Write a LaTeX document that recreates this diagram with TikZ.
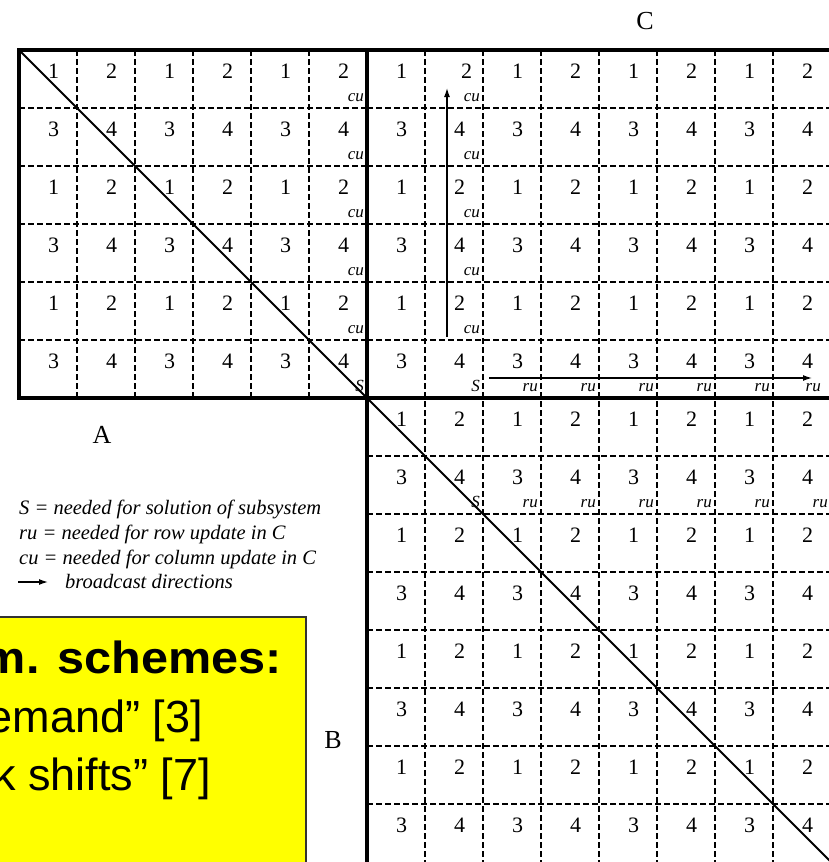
\documentclass[tikz,border=0pt]{standalone}
\usepackage{fontspec}
\setmainfont{Liberation Serif}
\newfontfamily\slidefont{Liberation Sans}
\newfontfamily\slideboldfont[FakeStretch=1.08]{Liberation Sans Bold}
\usetikzlibrary{arrows.meta, positioning}
\definecolor{colSlide}{RGB}{255,255,0}
\definecolor{colSlideEdge}{RGB}{50,50,50}

\begin{document}
\begin{tikzpicture}[
  x=1pt, y=-1pt,
  cellnum/.style={font=\fontsize{22}{24}\selectfont, inner sep=0pt},
  celltag/.style={font=\fontsize{17}{18}\selectfont\itshape, inner sep=0pt, anchor=base east},
  blocklabel/.style={font=\fontsize{26}{28}\selectfont, inner sep=0pt},
  dashgrid/.style={dash pattern=on 5.5pt off 3.5pt, line width=1.1pt},
  border/.style={line width=3.2pt},
  diag/.style={line width=2pt},
  arr/.style={-{Latex[length=9pt, width=6pt]}, line width=1.3pt},
  legendline/.style={font=\fontsize{20.5}{24}\selectfont\itshape, inner sep=0pt, anchor=base west},
  slideline/.style={font=\slidefont\fontsize{45}{50}\selectfont, inner sep=0pt, anchor=base east},
]
\useasboundingbox (0,0) rectangle (829,862);
\clip (0,0) rectangle (829,862);

% ─── DASHED CELL LINES ────────────────────────────────────────────────────────
\foreach \i in {1,...,5} {
  \draw[dashgrid] (19+\i*58,50) -- (19+\i*58,398);
  \draw[dashgrid] (19,50+\i*58) -- (367,50+\i*58);
  \draw[dashgrid] (367,50+\i*58) -- (831,50+\i*58);
}
\foreach \j in {1,...,7} {
  \draw[dashgrid] (367+\j*58,50) -- (367+\j*58,862);
  \draw[dashgrid] (367,398+\j*58) -- (831,398+\j*58);
}

% ─── BLOCK BORDERS + DIAGONAL ─────────────────────────────────────────────────
\draw[border] (19,50) rectangle (367,398);
\draw[border] (367,50) -- (831,50);
\draw[border] (367,398) -- (831,398);
\draw[border] (367,398) -- (367,864);
\draw[diag] (19,50) -- (831,862);

% ─── PROCESSOR NUMBERS ────────────────────────────────────────────────────────
\foreach \r in {0,...,5} \foreach \c in {0,...,5} {
  \pgfmathtruncatemacro\v{1+mod(\c,2)+2*mod(\r,2)}
  \node[cellnum] (a-\r-\c) at (53.5+\c*58, 71.5+\r*58) {\v};
}
\foreach \r in {0,...,5} \foreach \c in {0,...,7} {
  \pgfmathtruncatemacro\v{1+mod(\c,2)+2*mod(\r,2)}
  \pgfmathsetmacro\dx{(\r==0 && \c==1) ? 7 : 0}
  \node[cellnum] (c-\r-\c) at (401.5+\c*58+\dx, 71.5+\r*58) {\v};
}
\foreach \r in {0,...,7} \foreach \c in {0,...,7} {
  \pgfmathtruncatemacro\v{1+mod(\c,2)+2*mod(\r,2)}
  \node[cellnum] (b-\r-\c) at (401.5+\c*58, 419.5+\r*58) {\v};
}

% ─── S / ru / cu TAGS ─────────────────────────────────────────────────────────
\foreach \r in {1,...,5} {
  \node[celltag] (cuA-\r) at (364,43+\r*58) {cu};
  \node[celltag] (cuC-\r) at (480,43+\r*58) {cu};
}
\node[celltag] (sA) at (364,391) {S};
\node[celltag] (sC) at (480,391) {S};
\node[celltag] (sB) at (480,507) {S};
\foreach \x [count=\k] in {538,596,654,712,770,821}
  \node[celltag] (ruC-\k) at (\x,391) {ru};
\foreach \x [count=\k] in {538,596,654,712,770,828}
  \node[celltag] (ruB-\k) at (\x,507) {ru};

% ─── BROADCAST ARROWS ─────────────────────────────────────────────────────────
\coordinate (cuTail) at (447,337);
\coordinate (cuHead) at (447,88);
\coordinate (ruTail) at (489,378);
\coordinate (ruHead) at (812,378);
\draw[arr] (cuTail) -- (cuHead);
\draw[arr] (ruTail) -- (ruHead);

% ─── BLOCK LABELS ─────────────────────────────────────────────────────────────
\node[blocklabel] (labC) at (645,21) {C};
\node[blocklabel] (labA) at (102,435) {A};
\node[blocklabel] (labB) at (333,740) {B};

% ─── LEGEND ───────────────────────────────────────────────────────────────────
\node[legendline] (legS)  at (19,514) {S = needed for solution of subsystem};
\node[legendline] (legRu) at (19,539) {ru = needed for row update in C};
\node[legendline] (legCu) at (19,564) {cu = needed for column update in C};
\node[legendline] (legBc) at (65,588) {broadcast directions};
\coordinate (legTail) at (18,582);
\coordinate (legHead) at (48,582);
\draw[arr] (legTail) -- (legHead);

% ─── SLIDE BOX ────────────────────────────────────────────────────────────────
\draw[fill=colSlide, draw=colSlideEdge, line width=1.5pt] (-5,617) rectangle (306,870);
\node[slideline] (slideA) at (282,673) {\slideboldfont m. schemes:};
\node[slideline] (slideB) at (203,732) {emand” [3]};
\node[slideline] (slideC) at (211,790) {k shifts” [7]};

\end{tikzpicture}
\end{document}
